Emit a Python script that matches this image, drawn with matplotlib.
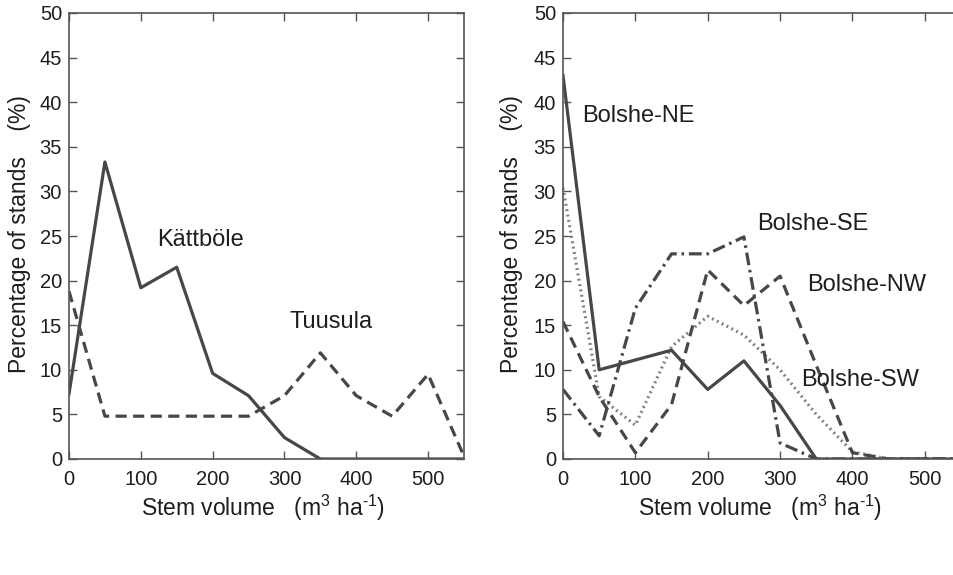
import numpy as np
from matplotlib import pyplot as plt

plt.rcParams["font.family"] = ["Liberation Sans", "DejaVu Sans"]
plt.rcParams["mathtext.fontset"] = "custom"
plt.rcParams["mathtext.rm"] = "Liberation Sans"
plt.rcParams["mathtext.it"] = "Liberation Sans"

# ------------------------------------------------------------------------------
#  Data
# ------------------------------------------------------------------------------
volume = [0, 50, 100, 150, 200, 250, 300, 350, 400, 450, 500, 550]

kattbole = [7.3, 33.3, 19.2, 21.5, 9.6, 7.1, 2.4, 0, 0, 0, 0, 0]
tuusula = [18.8, 4.8, 4.8, 4.8, 4.8, 4.8, 7.1, 11.9, 7.1, 4.8, 9.5, 0.3]

bolshe_ne = [43.0, 10.0, 11.1, 12.2, 7.8, 11.0, 6.0, 0, 0, 0, 0, 0]
bolshe_se = [7.8, 2.6, 16.9, 23.0, 23.0, 24.9, 1.8, 0, 0, 0, 0, 0]
bolshe_nw = [15.4, 7.0, 0.7, 6.1, 21.2, 17.2, 20.5, 10.5, 0.7, 0, 0, 0]
bolshe_sw = [30.4, 7.0, 3.8, 12.6, 16.0, 13.9, 10.0, 5.0, 0.8, 0, 0, 0]

xticks = [0, 100, 200, 300, 400, 500]
yticks = [0, 5, 10, 15, 20, 25, 30, 35, 40, 45, 50]

LINE_C = "#474747"
TEXT_C = "#1e1e1e"
XLABEL = "Stem volume   (m$^\\mathrm{3}$ ha$^\\text{-1}$)"
YLABEL = "Percentage of stands    (%)"

# ------------------------------------------------------------------------------
#  Figure
# ------------------------------------------------------------------------------
W, H = 954, 575
fig = plt.figure(figsize=(W / 100, H / 100), dpi=100)

ax1 = fig.add_axes([69 / W, 1 - 459 / H, 395 / W, 446 / H])
ax2 = fig.add_axes([563 / W, 1 - 459 / H, 398 / W, 446 / H])

ax1.plot(volume, kattbole, "-", color=LINE_C, lw=2.3)
ax1.plot(volume, tuusula, color=LINE_C, lw=2.3, dashes=(3.5, 2.0))
ax1.text(123, 24.5, "Kättböle", fontsize=17, color=TEXT_C, va="center")
ax1.text(307, 15.4, "Tuusula", fontsize=17, color=TEXT_C, va="center")

ax2.plot(volume, bolshe_sw, color="#808080", lw=2.3, dashes=(0.6, 1.1))
ax2.plot(volume, bolshe_nw, color=LINE_C, lw=2.3, dashes=(3.5, 2.0))
ax2.plot(volume, bolshe_se, color=LINE_C, lw=2.3, dashes=(4.0, 1.5, 0.8, 1.5))
ax2.plot(volume, bolshe_ne, "-", color=LINE_C, lw=2.3)
ax2.text(27, 38.5, "Bolshe-NE", fontsize=17, color=TEXT_C, va="center")
ax2.text(268, 26.4, "Bolshe-SE", fontsize=17, color=TEXT_C, va="center")
ax2.text(338, 19.5, "Bolshe-NW", fontsize=17, color=TEXT_C, va="center")
ax2.text(329, 8.9, "Bolshe-SW", fontsize=17, color=TEXT_C, va="center")

for ax in (ax1, ax2):
    ax.set_xlim(0, 550)
    ax.set_ylim(0, 50)
    ax.set_xticks(xticks)
    ax.set_yticks(yticks)
    ax.tick_params(direction="in", length=6, width=1, colors="#555555",
                   labelcolor=TEXT_C, labelsize=14.5, top=True, right=True)
    ax.tick_params(axis="x", pad=8)
    ax.tick_params(axis="y", pad=5)
    for sp in ax.spines.values():
        sp.set_color("#555555")
        sp.set_linewidth(1.2)

# axis labels placed in pixel terms
fig.text(20 / W, 1 - 234 / H, YLABEL, rotation=90, fontsize=16.5,
         color=TEXT_C, ha="center", va="center")
fig.text(512 / W, 1 - 234 / H, YLABEL, rotation=90, fontsize=16.5,
         color=TEXT_C, ha="center", va="center")
fig.text(263 / W, 1 - 508 / H, XLABEL, fontsize=16.5, color=TEXT_C,
         ha="center", va="center")
fig.text(760 / W, 1 - 508 / H, XLABEL, fontsize=16.5, color=TEXT_C,
         ha="center", va="center")

fig.savefig("out.png", dpi=100)
